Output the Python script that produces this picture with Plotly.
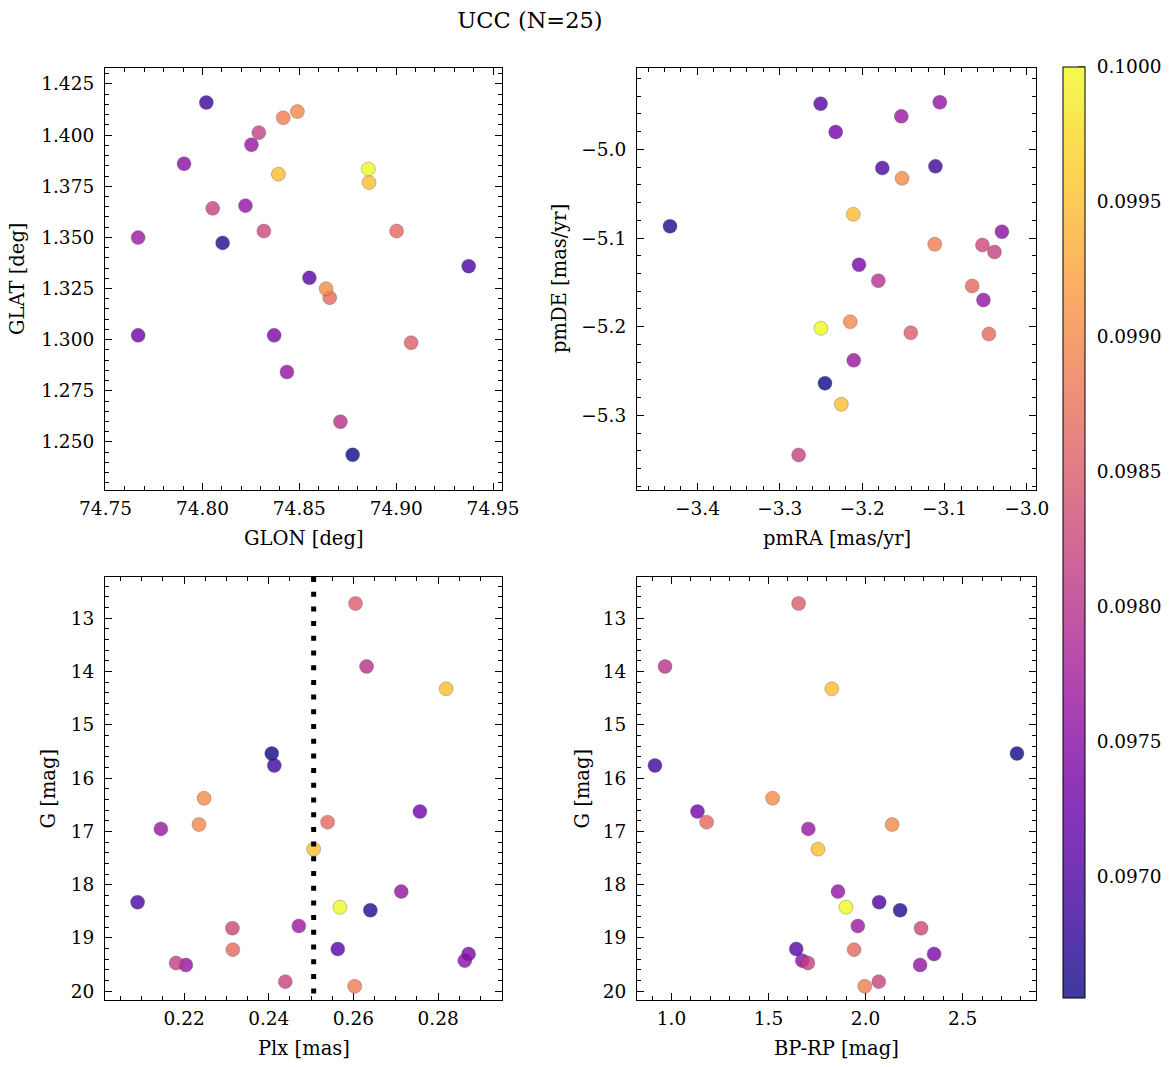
import numpy as np
import plotly.graph_objects as go
from plotly.subplots import make_subplots
import plotly.colors as pc

# ---------------- data ----------------
GLON = [74.8775, 74.8104, 74.8020, 74.9374, 74.8552, 74.7668, 74.8370, 74.7905, 74.8222, 74.8436,
        74.8253, 74.7668, 74.8712, 74.8291, 74.8053, 74.8317, 74.9077, 74.9002, 74.8657, 74.8417,
        74.8490, 74.8638, 74.8392, 74.8860, 74.8856]
GLAT = [1.2437, 1.3473, 1.4159, 1.3359, 1.3302, 1.3021, 1.3021, 1.3860, 1.3655, 1.2842,
        1.3953, 1.3499, 1.2599, 1.4012, 1.3642, 1.3531, 1.2985, 1.3531, 1.3205, 1.4085,
        1.4115, 1.3249, 1.3809, 1.3768, 1.3834]
PMRA = [-3.2452, -3.4333, -3.1111, -3.1756, -3.2505, -3.2322, -3.2039, -3.0304, -3.1058, -3.0528,
        -3.2103, -3.1525, -3.1804, -3.0394, -3.2772, -3.0540, -3.1410, -3.0462, -3.0665, -3.1119,
        -3.2145, -3.1516, -3.2108, -3.2254, -3.2501]
PMDE = [-5.2638, -5.0868, -5.0192, -5.0211, -4.9486, -4.9805, -5.1301, -5.0929, -4.9470, -5.1699,
        -5.2379, -4.9628, -5.1481, -5.1158, -5.3446, -5.1079, -5.2068, -5.2082, -5.1541, -5.1071,
        -5.1944, -5.0327, -5.0733, -5.2875, -5.2018]
PLX = [0.2407, 0.2640, 0.2413, 0.2090, 0.2563, 0.2757, 0.2872, 0.2863, 0.2713, 0.2204,
       0.2145, 0.2471, 0.2631, 0.2181, 0.2439, 0.2314, 0.2605, 0.2539, 0.2315, 0.2603,
       0.2235, 0.2247, 0.2819, 0.2506, 0.2568]
GMAG = [15.541, 18.479, 15.766, 18.329, 19.206, 16.629, 19.300, 19.425, 18.130, 19.506,
        16.954, 18.774, 13.908, 19.468, 19.819, 18.817, 12.726, 16.828, 19.219, 19.906,
        16.873, 16.378, 14.327, 17.335, 18.423]
BPRP = [2.780, 2.178, 0.915, 2.070, 1.643, 1.134, 2.353, 1.674, 1.858, 2.281,
        1.705, 1.960, 0.967, 1.703, 2.068, 2.286, 1.655, 1.181, 1.941, 1.996,
        2.137, 1.521, 1.826, 1.755, 1.899]
PROB = [0.09655, 0.09671, 0.09686, 0.09696, 0.09707, 0.09731, 0.09738, 0.09752, 0.09759, 0.09759,
        0.09765, 0.09769, 0.09800, 0.09817, 0.09821, 0.09828, 0.09852, 0.09866, 0.09866, 0.09890,
        0.09900, 0.09903, 0.09948, 0.09952, 0.10000]
PLX_LINE = 0.2506
CMIN, CMAX = 0.09655, 0.1000
CB_TICKS = [0.0970, 0.0975, 0.0980, 0.0985, 0.0990, 0.0995, 0.1000]
TITLE = "UCC (N=25)"

FONT = "DejaVu Serif"
W, H = 1173, 1067
ALPHA = 0.8
TICK_FS = 18.5
LABEL_FS = 19.5

# ---------------- figure ----------------
fig = make_subplots(rows=2, cols=2)

# panel geometry in pixels (left, right, top, bottom, y-title offset)
panels = {
    (1, 1): (105, 502, 68, 490, 87),
    (1, 2): (637, 1036, 68, 490, 77),
    (2, 1): (105, 502, 577, 1000, 57),
    (2, 2): (637, 1036, 577, 1000, 55),
}

def marker():
    return dict(size=14, color=PROB, colorscale="Plasma", cmin=CMIN, cmax=CMAX,
                opacity=ALPHA, line=dict(width=0.6, color="rgba(40,40,40,0.55)"),
                showscale=False)

fig.add_trace(go.Scatter(x=GLON, y=GLAT, mode="markers", marker=marker()), row=1, col=1)
fig.add_trace(go.Scatter(x=PMRA, y=PMDE, mode="markers", marker=marker()), row=1, col=2)
fig.add_trace(go.Scatter(x=PLX, y=GMAG, mode="markers", marker=marker()), row=2, col=1)
fig.add_trace(go.Scatter(x=BPRP, y=GMAG, mode="markers", marker=marker()), row=2, col=2)

# colorbar with alpha-blended plasma (as drawn in reference)
def blend(hexc):
    r, g, b = pc.hex_to_rgb(hexc)
    f = lambda c: round(c * ALPHA + 255 * (1 - ALPHA))
    return f"rgb({f(r)},{f(g)},{f(b)})"

plasma = pc.sequential.Plasma
cs = [[i / (len(plasma) - 1), blend(c)] for i, c in enumerate(plasma)]
cb_top, cb_bot, cb_left, cb_th = 67, 998, 1063, 22
cb_len = (cb_bot - cb_top) / H
fig.add_trace(go.Scatter(
    x=[None] * len(PROB), y=[None] * len(PROB), mode="markers", hoverinfo="skip",
    marker=dict(color=PROB, colorscale=cs, cmin=CMIN, cmax=CMAX, showscale=True,
                colorbar=dict(thickness=cb_th, thicknessmode="pixels", len=cb_len, lenmode="fraction",
                              x=cb_left / W, xanchor="left", y=1 - (cb_top + cb_bot) / 2 / H, yanchor="middle",
                              xpad=0, ypad=0, outlinewidth=1, outlinecolor="black",
                              tickvals=CB_TICKS, tickformat=".4f", ticks="outside", ticklen=8,
                              tickwidth=1, tickcolor="rgba(0,0,0,0)",
                              tickfont=dict(family=FONT, size=TICK_FS, color="black"))),
    showlegend=False), row=1, col=1)

# colorbar ticks drawn inward on the right edge of the bar
shapes = []
for v in np.arange(0.0966, 0.10001, 0.0001):
    major = any(abs(v - t) < 1e-7 for t in CB_TICKS)
    ln = 7 if major else 3.5
    yp = 1 - cb_bot / H + (v - CMIN) / (CMAX - CMIN) * cb_len
    shapes.append(dict(type="line", xref="paper", yref="paper",
                       x0=(cb_left + cb_th - ln) / W, x1=(cb_left + cb_th) / W, y0=yp, y1=yp,
                       line=dict(color="black", width=1)))

# dotted vertical line in Plx panel
shapes.append(dict(type="line", xref="x3", yref="y3 domain", x0=PLX_LINE, x1=PLX_LINE, y0=1, y1=0,
                   line=dict(color="black", width=5, dash="5px,9.7px"), layer="above"))

axcfg = {
    (1, 1): dict(x=dict(range=[74.7497, 74.9546], dtick=0.05, minor=0.01, fmt=".2f", title="GLON [deg]"),
                 y=dict(range=[1.2265, 1.4328], dtick=0.025, minor=0.005, fmt=".3f", title="GLAT [deg]")),
    (1, 2): dict(x=dict(range=[-3.4734, -2.989], dtick=0.1, minor=0.02, fmt=".1f", title="pmRA [mas/yr]"),
                 y=dict(range=[-5.3841, -4.9083], dtick=0.1, minor=0.02, fmt=".1f", title="pmDE [mas/yr]")),
    (2, 1): dict(x=dict(range=[0.2013, 0.2951], dtick=0.02, minor=0.005, fmt=".2f", title="Plx [mas]"),
                 y=dict(range=[20.163, 12.23], dtick=1, minor=0.2, fmt="d", title="G [mag]")),
    (2, 2): dict(x=dict(range=[0.8225, 2.878], dtick=0.5, minor=0.1, fmt=".1f", title="BP-RP [mag]"),
                 y=dict(range=[20.163, 12.23], dtick=1, minor=0.2, fmt="d", title="G [mag]")),
}

annotations = []
for (r, c), (l, rr, t, b, yoff) in panels.items():
    cfg = axcfg[(r, c)]
    common = dict(showline=True, linecolor="black", linewidth=1.2, mirror="ticks",
                  ticks="inside", ticklen=7, tickwidth=1, tickcolor="black",
                  showgrid=False, zeroline=False, automargin=False,
                  tickfont=dict(family=FONT, size=TICK_FS, color="black"))
    fig.update_xaxes(common, row=r, col=c, domain=[l / W, rr / W], range=cfg["x"]["range"],
                     tick0=0, dtick=cfg["x"]["dtick"], tickformat=cfg["x"]["fmt"], ticklabelstandoff=2,
                     minor=dict(ticks="inside", ticklen=3.5, dtick=cfg["x"]["minor"], tick0=0,
                                tickcolor="black", tickwidth=1))
    fig.update_yaxes(common, row=r, col=c, domain=[1 - b / H, 1 - t / H], range=cfg["y"]["range"],
                     tick0=0, dtick=cfg["y"]["dtick"], tickformat=cfg["y"]["fmt"], ticklabelstandoff=6,
                     minor=dict(ticks="inside", ticklen=3.5, dtick=cfg["y"]["minor"], tick0=0,
                                tickcolor="black", tickwidth=1))
    # axis titles as annotations (positions relative to panel box)
    annotations.append(dict(text=cfg["x"]["title"], xref="paper", yref="paper",
                            x=(l + rr) / 2 / W, y=1 - (b + 48) / H, xanchor="center", yanchor="middle",
                            showarrow=False, font=dict(family=FONT, size=LABEL_FS, color="black")))
    annotations.append(dict(text=cfg["y"]["title"], xref="paper", yref="paper", textangle=-90,
                            x=(l - yoff) / W, y=1 - (t + b) / 2 / H, xanchor="center", yanchor="middle",
                            showarrow=False, font=dict(family=FONT, size=LABEL_FS, color="black")))

fig.update_layout(
    width=W, height=H, margin=dict(l=0, r=0, t=0, b=0, autoexpand=False),
    paper_bgcolor="white", plot_bgcolor="white", showlegend=False,
    title=dict(text=TITLE, x=530 / W, xanchor="center", y=1 - 20 / H, yanchor="middle",
               font=dict(family=FONT, size=22.5, color="black")),
    font=dict(family=FONT, color="black"),
    shapes=shapes, annotations=annotations,
)

fig.write_html("out.html")
